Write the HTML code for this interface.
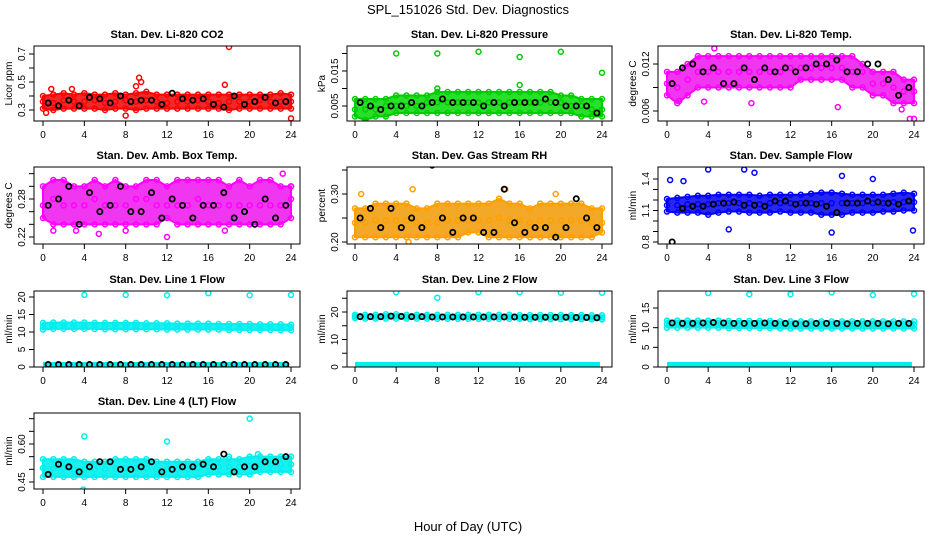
<!DOCTYPE html>
<html><head><meta charset="utf-8"><style>
body{margin:0;background:#fff;}
svg{display:block;font-family:"Liberation Sans",sans-serif;}
</style></head><body>
<svg id="chart" width="936" height="540" viewBox="0 0 936 540">
<text x="468" y="14" font-size="13" text-anchor="middle">SPL_151026  Std. Dev. Diagnostics</text>
<text x="468" y="531" font-size="13" text-anchor="middle">Hour of Day (UTC)</text>
</svg>
<script>
// shared hourly positions
const hours=[0,1,2,3,4,5,6,7,8,9,10,11,12,13,14,15,16,17,18,19,20,21,22,23,24];
const blackHours=[0.5,1.5,2.5,3.5,4.5,5.5,6.5,7.5,8.5,9.5,10.5,11.5,12.5,13.5,14.5,15.5,16.5,17.5,18.5,19.5,20.5,21.5,22.5,23.5];
const xTicks=[0,4,8,12,16,20,24];

// CO2
const co2Lo=[0.31,0.30,0.31,0.31,0.31,0.31,0.30,0.31,0.31,0.30,0.31,0.31,0.31,0.31,0.31,0.31,0.31,0.31,0.30,0.31,0.31,0.31,0.31,0.31,0.31];
const co2Hi=[0.40,0.41,0.42,0.41,0.42,0.41,0.41,0.42,0.41,0.42,0.43,0.41,0.41,0.41,0.41,0.41,0.41,0.41,0.41,0.41,0.41,0.41,0.41,0.42,0.41];
const co2Mid=[0.36,0.35,0.37,0.36,0.36,0.37,0.35,0.36,0.37,0.36,0.37,0.36,0.35,0.36,0.36,0.37,0.36,0.35,0.36,0.36,0.36,0.37,0.36,0.36,0.36];
const co2Black=[0.35,0.33,0.37,0.33,0.39,0.38,0.35,0.40,0.36,0.37,0.37,0.34,0.42,0.38,0.37,0.38,0.34,0.32,0.40,0.34,0.36,0.39,0.35,0.36];
const co2OutX=[18,9.3,9.5,17.6,0.8,2.8,24,8,9,0.3];
const co2OutY=[0.75,0.53,0.50,0.48,0.45,0.45,0.24,0.26,0.47,0.28];
// Pressure
const prLo=[0.002,0.001,0.002,0.002,0.003,0.003,0.003,0.003,0.003,0.003,0.003,0.003,0.003,0.003,0.003,0.003,0.003,0.003,0.003,0.003,0.003,0.003,0.002,0.002,0.002];
const prHi=[0.007,0.007,0.007,0.007,0.008,0.008,0.008,0.008,0.009,0.009,0.009,0.009,0.009,0.009,0.009,0.009,0.009,0.009,0.009,0.009,0.008,0.008,0.007,0.007,0.007];
const prMid=[0.004,0.004,0.004,0.005,0.005,0.005,0.005,0.006,0.006,0.006,0.006,0.006,0.006,0.006,0.006,0.006,0.006,0.006,0.006,0.006,0.006,0.005,0.005,0.004,0.004];
const prBlack=[0.006,0.005,0.004,0.005,0.005,0.006,0.005,0.006,0.007,0.006,0.006,0.006,0.005,0.006,0.005,0.006,0.006,0.006,0.007,0.006,0.005,0.005,0.005,0.003];
const prOutX=[4,8,12,16,20,24,16,8];
const prOutY=[0.020,0.020,0.0205,0.019,0.0205,0.0145,0.011,0.010];
// Li-820 temp
const tmLo=[0.008,0.007,0.008,0.009,0.009,0.009,0.009,0.009,0.009,0.009,0.009,0.009,0.009,0.010,0.010,0.010,0.010,0.010,0.009,0.009,0.008,0.008,0.007,0.007,0.007];
const tmHi=[0.011,0.011,0.012,0.013,0.013,0.013,0.013,0.013,0.013,0.013,0.013,0.013,0.013,0.013,0.013,0.013,0.013,0.013,0.013,0.012,0.011,0.011,0.011,0.010,0.010];
const tmMid=[0.0095,0.009,0.010,0.011,0.011,0.011,0.011,0.011,0.011,0.011,0.011,0.011,0.0115,0.0115,0.0115,0.0115,0.0115,0.0115,0.011,0.011,0.0095,0.0095,0.009,0.0085,0.0085];
const tmBlack=[0.0095,0.0115,0.012,0.011,0.0115,0.0095,0.0095,0.0115,0.010,0.0115,0.011,0.0115,0.011,0.0115,0.012,0.012,0.0125,0.011,0.011,0.012,0.012,0.010,0.008,0.009];
const tmOutX=[4.6,16.6,3.6,8.2,23.6,24,1.2,22.8];
const tmOutY=[0.0140,0.0065,0.0072,0.0070,0.0050,0.0050,0.0073,0.0062];
// Amb box temp
const abLo=[0.25,0.24,0.24,0.24,0.24,0.24,0.24,0.24,0.24,0.24,0.24,0.24,0.25,0.24,0.24,0.24,0.24,0.24,0.24,0.24,0.24,0.24,0.24,0.24,0.25];
const abHi=[0.30,0.31,0.31,0.30,0.30,0.31,0.30,0.31,0.30,0.30,0.31,0.31,0.30,0.31,0.31,0.31,0.31,0.31,0.30,0.31,0.30,0.31,0.31,0.30,0.30];
const abMid=[0.27,0.28,0.27,0.27,0.27,0.28,0.27,0.27,0.27,0.28,0.28,0.27,0.27,0.27,0.27,0.28,0.27,0.27,0.27,0.27,0.27,0.27,0.27,0.27,0.28];
const abBlack=[0.27,0.28,0.30,0.24,0.29,0.26,0.27,0.30,0.26,0.26,0.29,0.25,0.28,0.27,0.25,0.27,0.27,0.29,0.25,0.26,0.24,0.28,0.25,0.27];
const abOutX=[1,5.4,8,17.6,3.2,12,23.2,24];
const abOutY=[0.23,0.225,0.23,0.23,0.23,0.22,0.32,0.30];
// Gas stream RH
const rhLo=[0.21,0.21,0.21,0.21,0.21,0.21,0.21,0.21,0.21,0.21,0.21,0.22,0.22,0.21,0.21,0.21,0.21,0.21,0.21,0.21,0.21,0.21,0.21,0.21,0.22];
const rhHi=[0.27,0.27,0.28,0.28,0.28,0.28,0.27,0.27,0.28,0.28,0.28,0.28,0.28,0.28,0.29,0.28,0.28,0.27,0.28,0.28,0.28,0.28,0.28,0.27,0.27];
const rhMid=[0.24,0.24,0.245,0.245,0.245,0.245,0.24,0.24,0.24,0.245,0.245,0.245,0.245,0.245,0.25,0.245,0.245,0.24,0.245,0.245,0.245,0.245,0.245,0.24,0.24];
const rhBlack=[0.25,0.27,0.23,0.27,0.23,0.25,0.23,0.36,0.25,0.22,0.25,0.25,0.22,0.22,0.31,0.24,0.22,0.23,0.23,0.21,0.23,0.29,0.25,0.23];
const rhOutX=[0.6,5.2,14.6,5.6,19.5];
const rhOutY=[0.30,0.20,0.31,0.31,0.30];
// Sample flow
const sfLo=[1.09,1.08,1.08,1.08,1.06,1.08,1.09,1.09,1.08,1.08,1.08,1.09,1.08,1.08,1.08,1.06,1.06,1.06,1.08,1.08,1.08,1.09,1.09,1.10,1.10];
const sfHi=[1.21,1.22,1.23,1.24,1.24,1.25,1.25,1.25,1.25,1.24,1.25,1.25,1.25,1.25,1.26,1.27,1.27,1.26,1.25,1.25,1.25,1.25,1.26,1.27,1.26];
const sfMid=[1.15,1.15,1.16,1.16,1.16,1.17,1.17,1.17,1.17,1.16,1.17,1.17,1.17,1.17,1.17,1.17,1.17,1.17,1.17,1.17,1.17,1.17,1.18,1.18,1.18];
const sfBlack=[0.80,1.12,1.14,1.14,1.16,1.17,1.18,1.15,1.15,1.14,1.19,1.19,1.16,1.17,1.16,1.14,1.08,1.17,1.17,1.19,1.18,1.17,1.16,1.19];
const sfOutX=[0.3,4,8.5,7.5,1.6,17,20,23.9,16,6];
const sfOutY=[1.39,1.49,1.46,1.49,1.38,1.43,1.40,0.91,0.89,0.92];
// Line 1
const l1Lo=[10.7,10.9,10.9,10.9,10.9,10.9,10.8,10.8,10.8,10.8,10.8,10.8,10.7,10.7,10.7,10.7,10.7,10.7,10.6,10.6,10.6,10.6,10.6,10.5,10.5];
const l1Hi=[12.6,12.7,12.7,12.7,12.7,12.6,12.6,12.6,12.6,12.6,12.5,12.5,12.5,12.4,12.4,12.4,12.4,12.3,12.3,12.3,12.3,12.2,12.2,12.2,12.1];
const l1Mid=[11.6,11.8,11.8,11.8,11.8,11.7,11.7,11.7,11.7,11.7,11.6,11.6,11.6,11.5,11.5,11.5,11.5,11.5,11.4,11.4,11.4,11.4,11.4,11.3,11.3];
const l1Black=[0.7,0.7,0.7,0.7,0.7,0.7,0.7,0.7,0.7,0.7,0.7,0.7,0.7,0.7,0.7,0.7,0.7,0.7,0.7,0.7,0.7,0.7,0.7,0.7];
const l1OutX=[4,8,12,16,20,24];
const l1OutY=[20.6,20.6,20.5,21.1,20.5,20.6];
// Line 2
const l2Lo=[17.8,17.6,17.6,17.6,17.6,17.6,17.6,17.6,17.5,17.5,17.5,17.5,17.5,17.5,17.5,17.5,17.5,17.4,17.4,17.4,17.4,17.4,17.4,17.3,17.3];
const l2Hi=[19.0,19.0,19.0,19.2,19.2,19.0,19.0,19.0,19.0,19.0,19.0,19.0,19.0,19.0,19.0,19.0,18.9,18.9,18.9,18.9,18.9,18.9,18.9,18.8,18.8];
const l2Mid=[18.4,18.3,18.3,18.4,18.4,18.3,18.3,18.3,18.2,18.2,18.2,18.2,18.2,18.2,18.2,18.2,18.1,18.1,18.1,18.1,18.1,18.1,18.1,18.0,18.0];
const l2Black=[18.3,18.3,18.3,18.5,18.4,18.3,18.3,18.2,18.2,18.2,18.2,18.2,18.2,18.2,18.2,18.2,18.1,18.1,18.1,18.1,18.1,18.0,18.0,17.9];
const l2OutX=[4,8,12,16,20,24];
const l2OutY=[27.2,25.2,27.2,27.2,27.0,27.0];
// Line 3
const l3Lo=[10.0,10.0,10.0,10.0,10.0,10.0,9.9,9.9,9.9,9.9,9.9,9.8,9.8,9.8,9.8,9.8,9.8,9.8,9.8,9.8,9.8,9.8,9.8,9.8,9.8];
const l3Hi=[11.8,11.8,11.8,11.8,11.8,11.8,11.7,11.7,11.7,11.7,11.7,11.6,11.6,11.6,11.6,11.6,11.6,11.6,11.6,11.6,11.6,11.6,11.6,11.6,11.6];
const l3Mid=[10.9,10.9,10.9,10.9,10.9,10.9,10.8,10.8,10.8,10.8,10.8,10.7,10.7,10.7,10.7,10.7,10.7,10.7,10.7,10.7,10.7,10.7,10.7,10.7,10.7];
const l3Black=[11.2,11.1,11.1,11.2,11.3,11.2,11.1,11.1,11.1,11.2,11.1,11.1,11.0,11.0,11.1,11.1,11.1,11.0,11.1,11.1,11.1,11.0,11.1,11.1];
const l3OutX=[4,8,12,16,20,24];
const l3OutY=[18.8,18.5,18.5,19.0,18.3,18.6];
// Line 4
const l4Lo=[0.47,0.47,0.47,0.47,0.47,0.47,0.47,0.47,0.47,0.47,0.47,0.47,0.47,0.47,0.47,0.47,0.48,0.48,0.48,0.48,0.48,0.49,0.49,0.49,0.49];
const l4Hi=[0.54,0.54,0.54,0.54,0.53,0.53,0.53,0.54,0.54,0.54,0.54,0.53,0.53,0.53,0.53,0.53,0.54,0.54,0.54,0.54,0.55,0.55,0.55,0.55,0.55];
const l4Mid=[0.505,0.505,0.505,0.50,0.50,0.50,0.50,0.505,0.505,0.505,0.505,0.50,0.50,0.50,0.50,0.505,0.51,0.51,0.51,0.51,0.515,0.52,0.52,0.52,0.52];
const l4Black=[0.48,0.52,0.51,0.49,0.51,0.53,0.53,0.50,0.50,0.51,0.53,0.49,0.50,0.51,0.51,0.52,0.51,0.56,0.49,0.51,0.51,0.53,0.53,0.55];
const l4OutX=[4,12,20,3.9,20.8,18];
const l4OutY=[0.63,0.61,0.70,0.42,0.56,0.55];

const NS='http://www.w3.org/2000/svg';
const svg=document.getElementById('chart');
function mk(tag,attrs,parent){const e=document.createElementNS(NS,tag);for(const k in attrs)e.setAttribute(k,attrs[k]);(parent||svg).appendChild(e);return e;}

const cols=[{l:34,r:300,x0:43,x1:291},{l:347,r:612,x0:355,x1:602},{l:658,r:924,x0:667,x1:914}];
const rows=[{t:46,b:121},{t:167,b:244},{t:291,b:367},{t:413,b:489}];

const panels=[
 {id:'co2',title:'Stan. Dev. Li-820 CO2',yl:'Licor ppm',c:0,r:0,v1:0.3,p1:110,v2:0.7,p2:54,ticks:[0.3,0.4,0.5,0.6,0.7],labs:[0.3,0.5,0.7],fmt:1,col:'#ff0000',band:'#ee1111',
  bands:[[co2Lo,co2Hi,co2Mid]],black:co2Black,ox:co2OutX,oy:co2OutY},
 {id:'pressure',title:'Stan. Dev. Li-820 Pressure',yl:'kPa',c:1,r:0,v1:0.005,p1:106,v2:0.015,p2:71,ticks:[0.005,0.010,0.015,0.020],labs:[0.005,0.015],fmt:3,col:'#00cc00',band:'#11dd11',
  bands:[[prLo,prHi,prMid]],black:prBlack,ox:prOutX,oy:prOutY},
 {id:'li820-temp',title:'Stan. Dev. Li-820 Temp.',yl:'degrees C',c:2,r:0,v1:0.006,p1:111,v2:0.012,p2:64,ticks:[0.006,0.009,0.012,0.015],labs:[0.006,0.012],fmt:3,col:'#ff00ff',band:'#f020f0',
  bands:[[tmLo,tmHi,tmMid]],black:tmBlack,ox:tmOutX,oy:tmOutY},
 {id:'amb-box-temp',title:'Stan. Dev. Amb. Box Temp.',yl:'degrees C',c:0,r:1,v1:0.22,p1:237,v2:0.28,p2:199,ticks:[0.22,0.24,0.26,0.28,0.30,0.32],labs:[0.22,0.28],fmt:2,col:'#ff00ff',band:'#f020f0',
  bands:[[abLo,abHi,abMid]],black:abBlack,ox:abOutX,oy:abOutY},
 {id:'gas-stream-rh',title:'Stan. Dev. Gas Stream RH',yl:'percent',c:1,r:1,v1:0.20,p1:242,v2:0.30,p2:194,ticks:[0.20,0.25,0.30,0.35],labs:[0.20,0.30],fmt:2,col:'#ffa000',band:'#f2a010',
  bands:[[rhLo,rhHi,rhMid]],black:rhBlack,ox:rhOutX,oy:rhOutY},
 {id:'sample-flow',title:'Stan. Dev. Sample Flow',yl:'ml/min',c:2,r:1,v1:0.8,p1:242,v2:1.4,p2:179,ticks:[0.8,0.9,1.0,1.1,1.2,1.3,1.4],labs:[0.8,1.1,1.4],fmt:1,col:'#0000ff',band:'#1010ee',
  bands:[[sfLo,sfHi,sfMid]],black:sfBlack,ox:sfOutX,oy:sfOutY},
 {id:'line1-flow',title:'Stan. Dev. Line 1 Flow',yl:'ml/min',c:0,r:2,v1:0,p1:367,v2:20,p2:297,ticks:[0,5,10,15,20],labs:[0,5,10,15,20],fmt:0,col:'#00eeee',band:'#00f0f0',
  bands:[[l1Lo,l1Hi,l1Mid]],low:true,black:l1Black,ox:l1OutX,oy:l1OutY},
 {id:'line2-flow',title:'Stan. Dev. Line 2 Flow',yl:'ml/min',c:1,r:2,v1:0,p1:367,v2:20,p2:312,ticks:[0,5,10,15,20,25],labs:[0,10,20],fmt:0,col:'#00eeee',band:'#00f0f0',
  bands:[[l2Lo,l2Hi,l2Mid]],low:true,black:l2Black,ox:l2OutX,oy:l2OutY},
 {id:'line3-flow',title:'Stan. Dev. Line 3 Flow',yl:'ml/min',c:2,r:2,v1:0,p1:367,v2:15,p2:308,ticks:[0,5,10,15],labs:[0,5,10,15],fmt:0,col:'#00eeee',band:'#00f0f0',
  bands:[[l3Lo,l3Hi,l3Mid]],low:true,black:l3Black,ox:l3OutX,oy:l3OutY},
 {id:'line4-flow',title:'Stan. Dev. Line 4 (LT) Flow',yl:'ml/min',c:0,r:3,v1:0.45,p1:482,v2:0.60,p2:444,ticks:[0.45,0.50,0.55,0.60,0.65,0.70],labs:[0.45,0.60],fmt:2,col:'#00eeee',band:'#00f0f0',
  bands:[[l4Lo,l4Hi,l4Mid]],black:l4Black,ox:l4OutX,oy:l4OutY}
];

panels.forEach(p=>{
  const C=cols[p.c],R=rows[p.r];
  const xs=h=>C.x0+(C.x1-C.x0)*h/24;
  const ys=v=>p.p1+(p.p2-p.p1)*(v-p.v1)/(p.v2-p.v1);
  const g=mk('g',{});
  
  
  const clipId='clip-'+p.id;
  const cp=mk('clipPath',{id:clipId},g);
  mk('rect',{x:C.l,y:R.t,width:C.r-C.l,height:R.b-R.t},cp);
  const plot=mk('g',{'clip-path':'url(#'+clipId+')'},g);
  const ttl=mk('text',{x:(C.l+C.r)/2,y:R.t-8,'font-size':11,'font-weight':'bold','text-anchor':'middle'},g);
  ttl.textContent=p.title;
  
  
  p.bands.forEach(b=>{
    const [lo,hi,mid]=b;
    let pts=hours.map((h,i)=>xs(h)+','+ys(hi[i]));
    pts=pts.concat(hours.slice().reverse().map((h,j)=>{const i=hours.length-1-j;return xs(h)+','+ys(lo[i]);}));
    const poly=mk('polygon',{points:pts.join(' '),fill:p.band,'fill-opacity':0.9,stroke:p.col,'stroke-width':2,'stroke-linejoin':'round'},plot);
    
    
    [lo,hi,mid].forEach(arr=>hours.forEach((h,i)=>{
      const c=mk('circle',{cx:xs(h),cy:ys(arr[i]),r:2.5,fill:'none',stroke:p.col,'stroke-width':1.5},plot);
      
      
    }));
  });
  if(p.low){
    const ln=mk('rect',{x:xs(0),y:ys(0)-5,width:xs(23.8)-xs(0),height:5,fill:p.col},plot);
    
    
  }
  p.ox.forEach((x,i)=>{
    const c=mk('circle',{cx:xs(x),cy:ys(p.oy[i]),r:2.5,fill:'none',stroke:p.col,'stroke-width':1.5},plot);
    
    
  });
  p.black.forEach((v,i)=>{
    const c=mk('circle',{cx:xs(blackHours[i]),cy:ys(v),r:2.6,fill:'none',stroke:'#000','stroke-width':1.8},plot);
    
    
  });
  mk('rect',{x:C.l,y:R.t,width:C.r-C.l,height:R.b-R.t,fill:'none',stroke:'#000','stroke-width':1},g);
  mk('line',{x1:xs(0),y1:R.b,x2:xs(24),y2:R.b,stroke:'#000'},g);
  xTicks.forEach(t=>{
    mk('line',{x1:xs(t),y1:R.b,x2:xs(t),y2:R.b+5,stroke:'#000'},g);
    const tx=mk('text',{x:xs(t),y:R.b+17,'font-size':10,'text-anchor':'middle'},g);
    tx.textContent=t;
    
    
  });
  p.ticks.forEach(t=>{
    const y=ys(t);
    if(y<R.t-1||y>R.b+1)return;
    mk('line',{x1:C.l-5,y1:y,x2:C.l,y2:y,stroke:'#000'},g);
    if(p.labs.some(l=>Math.abs(l-t)<1e-9)){
      const tx=mk('text',{x:C.l-9,y:y,'font-size':10,'text-anchor':'middle',transform:'rotate(-90 '+(C.l-9)+' '+y+')'},g);
      tx.textContent=t.toFixed(p.fmt);
      
      
    }
  });
  const yt=(R.t+R.b)/2, yx=C.l-22;
  const yl=mk('text',{x:yx,y:yt,'font-size':10,'text-anchor':'middle',transform:'rotate(-90 '+yx+' '+yt+')'},g);
  yl.textContent=p.yl;
  
  
});
</script>
</body></html>
